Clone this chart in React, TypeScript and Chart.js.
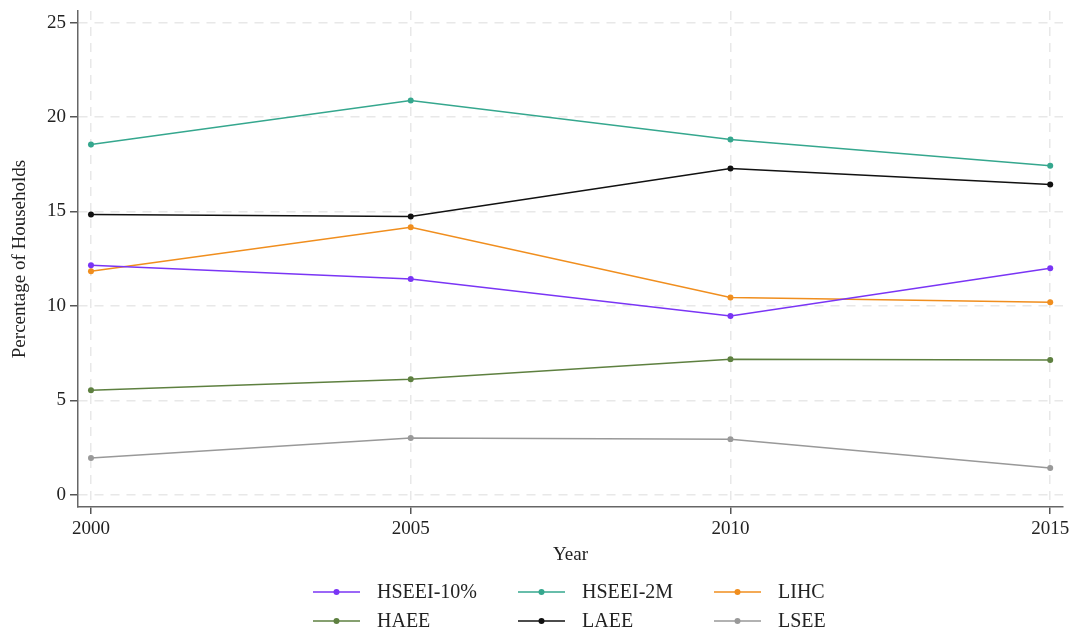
import React, { useEffect, useRef } from "react";
import { Chart, registerables } from "chart.js";

Chart.register(...registerables);

const years = [2000, 2005, 2010, 2015];
const seriesNames = ["HSEEI-10%", "HSEEI-2M", "LIHC", "HAEE", "LAEE", "LSEE"];
const hseei10 = [12.15, 11.42, 9.46, 12.0];
const hseei2m = [18.55, 20.88, 18.82, 17.43];
const lihc = [11.84, 14.16, 10.45, 10.19];
const haee = [5.54, 6.12, 7.18, 7.13];
const laee = [14.84, 14.74, 17.28, 16.43];
const lsee = [1.94, 3.0, 2.94, 1.41];
const seriesColors = ["#7a35f5", "#35a78e", "#f08e1e", "#5e8040", "#111111", "#999999"];
const yTicks = [0, 5, 10, 15, 20, 25];

const FONT = "'Liberation Serif', 'Times New Roman', serif";

const legendPlugin = {
  id: "customLegend",
  afterDraw(chart: any) {
    const ctx = chart.ctx;
    const cols = [313, 518, 714];
    const rows = [592, 621];
    ctx.save();
    chart.data.datasets.forEach((ds: any, i: number) => {
      const x = cols[i % 3];
      const y = rows[Math.floor(i / 3)];
      ctx.strokeStyle = ds.borderColor;
      ctx.lineWidth = 1.5;
      ctx.beginPath();
      ctx.moveTo(x, y);
      ctx.lineTo(x + 47, y);
      ctx.stroke();
      ctx.fillStyle = ds.borderColor;
      ctx.beginPath();
      ctx.arc(x + 23.5, y, 3, 0, Math.PI * 2);
      ctx.fill();
      ctx.fillStyle = "#222";
      ctx.font = `20px ${FONT}`;
      ctx.textBaseline = "middle";
      ctx.textAlign = "left";
      ctx.fillText(ds.label, x + 64, y + 1);
    });
    ctx.restore();
  },
};

const gridOpts = (tickLength: number) => ({
  color: "#e8e8e8",
  lineWidth: 1.5,
  tickLength,
  tickColor: "#555",
  tickWidth: 1.5,
  tickBorderDash: [],
});

export default function App() {
  const ref = useRef<HTMLCanvasElement>(null);
  useEffect(() => {
    const all = [hseei10, hseei2m, lihc, haee, laee, lsee];
    const chart = new Chart(ref.current!, {
      type: "line",
      data: {
        datasets: all.map((vals, i) => ({
          label: seriesNames[i],
          data: vals.map((v, j) => ({ x: years[j], y: v })),
          borderColor: seriesColors[i],
          backgroundColor: seriesColors[i],
          borderWidth: 1.5,
          pointRadius: 3,
          pointBorderWidth: 0,
          tension: 0,
        })),
      },
      options: {
        animation: false,
        responsive: false,
        maintainAspectRatio: false,
        layout: { padding: { top: 11, right: 11, left: 0, bottom: 65 } },
        plugins: { legend: { display: false }, tooltip: { enabled: false } },
        scales: {
          x: {
            type: "linear",
            min: 1999.797,
            max: 2015.2,
            afterFit: (s: any) => {
              s.height = 60;
              s.paddingLeft = 0;
              s.paddingRight = 0;
            },
            ticks: {
              stepSize: 5,
              includeBounds: false,
              autoSkip: false,
              maxRotation: 0,
              padding: 4,
              color: "#222",
              font: { family: FONT, size: 19 },
              callback: (v: any) => String(v),
            },
            grid: gridOpts(7),
            border: { color: "#666", width: 1.5, dash: [9, 7] },
            title: {
              display: true,
              text: "Year",
              color: "#222",
              font: { family: FONT, size: 19 },
              padding: { top: 0, bottom: 1 },
            },
          },
          y: {
            min: -0.65,
            max: 25.62,
            afterFit: (s: any) => {
              s.width = 78;
              s.paddingTop = 0;
              s.paddingBottom = 0;
            },
            afterBuildTicks: (s: any) => {
              s.ticks = yTicks.map((v) => ({ value: v }));
            },
            ticks: {
              padding: 4,
              color: "#222",
              font: { family: FONT, size: 19 },
            },
            grid: gridOpts(8),
            border: { color: "#666", width: 1.5, dash: [9, 7] },
            title: {
              display: true,
              text: "Percentage of Households",
              color: "#222",
              font: { family: FONT, size: 19 },
              padding: { top: 9, bottom: 0 },
            },
          },
        },
      },
      plugins: [legendPlugin],
    });
    return () => chart.destroy();
  }, []);
  return (
    <div style={{ position: "fixed", left: 0, top: 0, width: 1074, height: 632, background: "#fff" }}>
      <canvas ref={ref} width={1074} height={632} style={{ width: 1074, height: 632 }} />
    </div>
  );
}
